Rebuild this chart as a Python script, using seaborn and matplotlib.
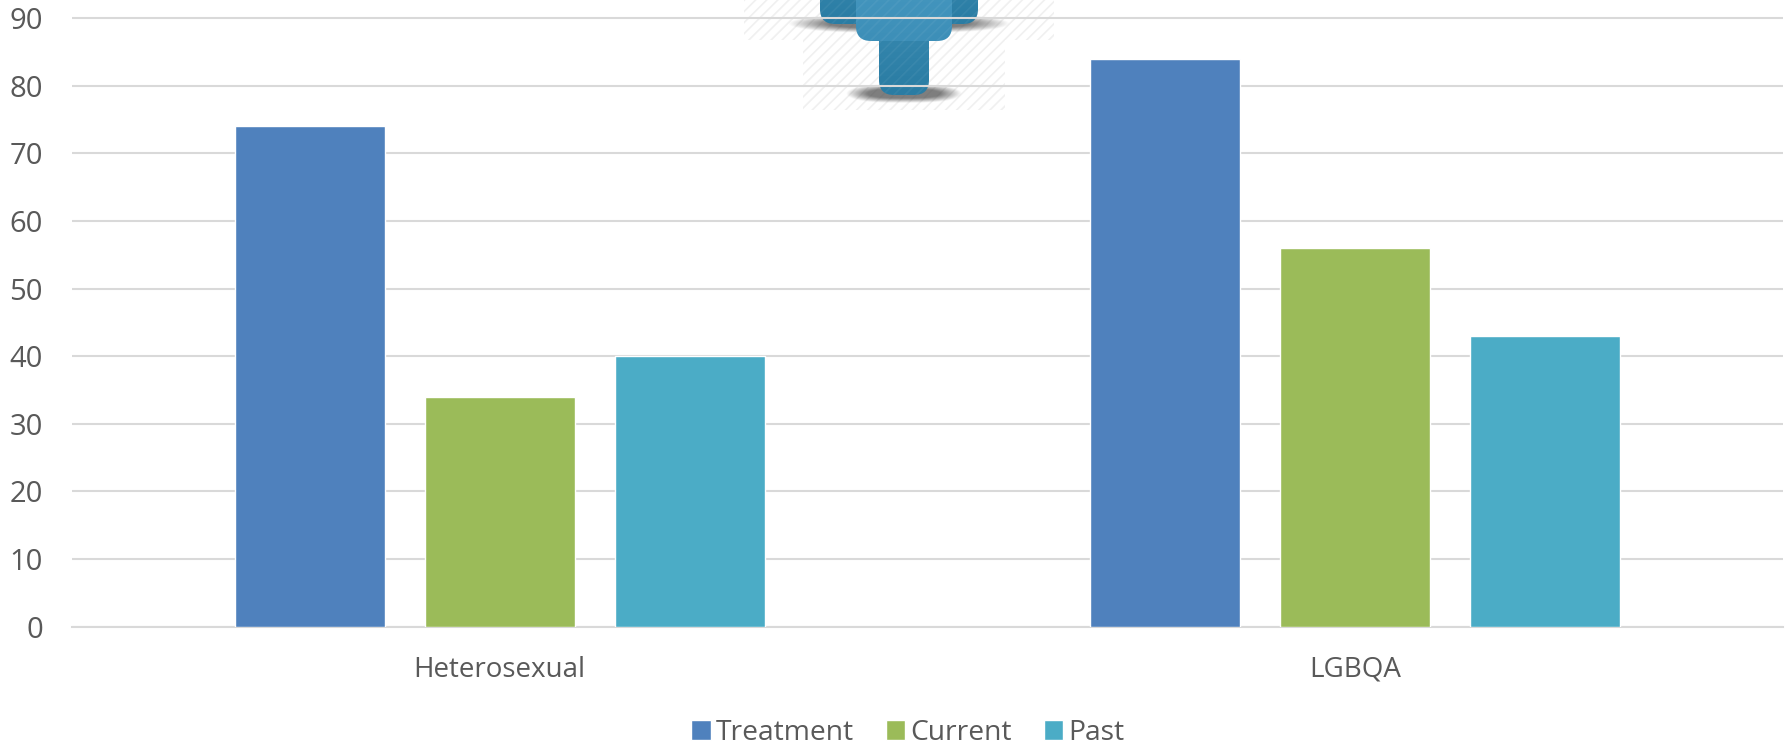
import numpy as np
import pandas as pd
import matplotlib
matplotlib.use("Agg")
import matplotlib.pyplot as plt
from matplotlib.patches import FancyBboxPatch, Rectangle
import seaborn as sns

# Survey percentages by group
groups = ["Heterosexual", "LGBQA"]
statuses = ["Treatment", "Current", "Past"]
treatment = [74, 84]
current = [34, 56]
past = [40, 43]
y_ticks = [0, 10, 20, 30, 40, 50, 60, 70, 80, 90]

status_colors = ["#4F81BD", "#9BBB59", "#4BACC6"]
TEXT = "#595959"
GRID = "#D9D9D9"
W, H = 1788, 743

table = pd.DataFrame({
    "group": groups * 3,
    "status": sum([[s] * 2 for s in statuses], []),
    "value": treatment + current + past,
})

sns.set_theme(style="white")
plt.rcParams["font.family"] = ["Open Sans", "DejaVu Sans"]
plt.rcParams["hatch.linewidth"] = 1.2

fig = plt.figure(figsize=(W / 100, H / 100), dpi=100, facecolor="white")

# Pictogram layer sits under the chart so that the gridlines cross it
deco = fig.add_axes([0, 0, 1, 1], zorder=0)
deco.axis("off")


def hatch_block(x0, x1, y0, y1):
    deco.add_patch(Rectangle((x0, y0), x1 - x0, y1 - y0, facecolor="none",
                             edgecolor="#F0F0F0", hatch="///", linewidth=0, zorder=1))


def soft_shadow(x0, x1, y0, y1):
    xs, ys = np.meshgrid(np.linspace(-1, 1, 240), np.linspace(-1, 1, 60))
    r = (np.abs(xs) ** 3 + np.abs(ys) ** 2) ** 0.5
    alpha = np.clip((1.0 - r) / 0.5, 0, 1) * 0.72
    rgba = np.zeros((60, 240, 4))
    rgba[..., :3] = 0.3
    rgba[..., 3] = alpha
    deco.imshow(rgba, extent=(x0, x1, y1, y0), aspect="auto", zorder=2, interpolation="bilinear")


def gradient_block(x0, x1, top, bottom, light, dark, z):
    box = FancyBboxPatch((x0 + 15, top), x1 - x0 - 30, bottom - top - 15,
                         boxstyle="round,pad=15,rounding_size=15", mutation_scale=1,
                         facecolor="none", edgecolor="none", zorder=z)
    deco.add_patch(box)
    c0, c1 = np.array(matplotlib.colors.to_rgb(light)), np.array(matplotlib.colors.to_rgb(dark))
    t = np.linspace(0, 1, 120)[:, None, None]
    img = np.broadcast_to(c0 * (1 - t) + c1 * t, (120, 4, 3))
    im = deco.imshow(img, extent=(x0, x1, bottom, top), aspect="auto", zorder=z, interpolation="bilinear")
    im.set_clip_path(box)
    # Faint diagonal sheen across the fill
    sheen = Rectangle((x0, max(top, 0)), x1 - x0, bottom - max(top, 0), facecolor="none",
                      edgecolor=(1, 1, 1, 0.05), hatch="///", linewidth=0, zorder=z + 0.5)
    deco.add_patch(sheen)
    sheen.set_clip_path(box)


hatch_block(744, 1054, 0, 40)
hatch_block(803, 1005, 40, 110)
soft_shadow(788, 1010, 14, 33)
soft_shadow(846, 962, 84, 103)
gradient_block(820, 978, -60, 24, "#3A8DB5", "#2A7CA3", 3)
gradient_block(879, 929, -20, 95, "#3D8FB6", "#2A7CA3", 4)
gradient_block(856, 952, -60, 41, "#4A9CC4", "#3D8FB8", 5)
deco.set_xlim(0, W)
deco.set_ylim(H, 0)

# Chart axes span the full height, running from the baseline to the top edge
base_px, left_px, right_px = 626.5, 72, 1783
ax = fig.add_axes([left_px / W, 1 - base_px / H, (right_px - left_px) / W, base_px / H], zorder=1)
ax.patch.set_alpha(0)

sns.barplot(data=table, x="group", y="value", hue="status", order=groups, hue_order=statuses,
            palette=status_colors, saturation=1, width=0.666, gap=0.21, ax=ax, zorder=3, legend=True)

ax.set_xlim(-0.5, 1.5)
ax.set_ylim(0, base_px / 6.76)
ax.set_yticks(y_ticks)
ax.set_xlabel("")
ax.set_ylabel("")
ax.yaxis.grid(True, color=GRID, linewidth=1.5)
ax.set_axisbelow(True)
for name, spine in ax.spines.items():
    spine.set_visible(name == "bottom")
ax.spines["bottom"].set_color(GRID)
ax.spines["bottom"].set_linewidth(1.5)
ax.tick_params(axis="y", length=0, labelsize=21, labelcolor=TEXT, pad=21)
ax.tick_params(axis="x", length=0, labelsize=20, labelcolor=TEXT, pad=21)

handles, labels = ax.get_legend_handles_labels()
ax.get_legend().remove()
fig.legend(handles, labels, loc="center", bbox_to_anchor=(908 / W, 1 - 733 / H), ncol=3, frameon=False,
           fontsize=20.3, labelcolor=TEXT, handlelength=0.68, handleheight=0.68,
           handletextpad=0.2, columnspacing=1.12, borderpad=0, borderaxespad=0)

fig.savefig("out.png", dpi=100, facecolor="white")
